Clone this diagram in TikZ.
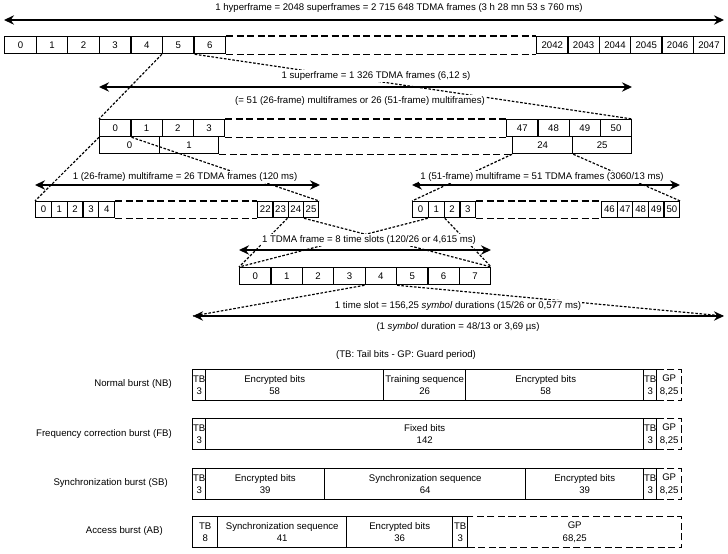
\documentclass[tikz,border=0pt]{standalone}
\usepackage{fontspec}
\setmainfont{Liberation Sans}
\usetikzlibrary{arrows.meta,positioning}
\newlength\pxu
\setlength\pxu{0.3mm}

\begin{document}
\begin{tikzpicture}[x=0.3mm, y=-0.3mm,
  font=\fontsize{8.2}{10.5}\selectfont,
  cell/.style={draw,line width=1.1pt,inner sep=0pt,anchor=north west,minimum height=17*\pxu},
  gap/.style={line width=1.1pt,dash pattern=on 6pt off 3pt},
  zoomline/.style={line width=1pt,dash pattern=on 2.2pt off 1.4pt},
  span/.style={{Stealth[length=3mm,width=2.8mm,inset=1mm]}-{Stealth[length=3mm,width=2.8mm,inset=1mm]},line width=1.5pt},
  txt/.style={fill=white,inner sep=1pt},
  burst/.style={draw,line width=1.2pt,inner sep=0pt,anchor=north west,minimum height=31*\pxu,align=center},
  gp/.style={burst,dash pattern=on 6pt off 3pt},
  burstname/.style={anchor=east,inner sep=0pt}]

\useasboundingbox (0,0) rectangle (728,554);

% hyperframe
\foreach \i in {0,...,6}
  \node[cell,minimum width=31.57*\pxu] (h\i) at (4+31.57*\i,36) {\i};
\foreach \i [count=\k from 0] in {2042,...,2047}
  \node[cell,minimum width=31.33*\pxu] (h\i) at (536+31.33*\k,36) {\i};
\draw[gap] (h6.north east) -- (h2042.north west);
\draw[gap] (h6.south east) -- (h2042.south west);

% superframe (51 x 26-frame and 26 x 51-frame)
\foreach \i in {0,...,3}
  \node[cell,minimum width=31.25*\pxu] (s\i) at (99+31.25*\i,119) {\i};
\foreach \i [count=\k from 0] in {47,...,50}
  \node[cell,minimum width=31.25*\pxu] (s\i) at (506+31.25*\k,119) {\i};
\node[cell,minimum width=60*\pxu] (t0) at (99,136) {0};
\node[cell,minimum width=59*\pxu] (t1) at (159,136) {1};
\node[cell,minimum width=60*\pxu] (t24) at (512,136) {24};
\node[cell,minimum width=59*\pxu] (t25) at (572,136) {25};
\draw[gap] (s3.north east) -- (s47.north west);
\draw[gap] (s3.south east) -- (s47.south west);
\draw[gap] (t1.south east) -- (t24.south west);

% 26-frame multiframe
\foreach \i in {0,...,4}
  \node[cell,minimum width=15.8*\pxu,minimum height=16*\pxu] (m\i) at (35+15.8*\i,201) {\i};
\foreach \i [count=\k from 0] in {22,...,25}
  \node[cell,minimum width=15.25*\pxu,minimum height=16*\pxu] (m\i) at (257+15.25*\k,201) {\i};
\draw[gap] (m4.north east) -- (m22.north west);
\draw[gap] (m4.south east) -- (m22.south west);

% 51-frame multiframe
\foreach \i in {0,...,3}
  \node[cell,minimum width=15.75*\pxu,minimum height=16*\pxu] (n\i) at (412+15.75*\i,201) {\i};
\foreach \i [count=\k from 0] in {46,...,50}
  \node[cell,minimum width=15.6*\pxu,minimum height=16*\pxu] (n\i) at (601+15.6*\k,201) {\i};
\draw[gap] (n3.north east) -- (n46.north west);
\draw[gap] (n3.south east) -- (n46.south west);

% TDMA frame
\foreach \i in {0,...,7}
  \node[cell,minimum width=31.375*\pxu] (f\i) at (239+31.375*\i,267) {\i};

% arrow ends
\coordinate (hypl) at (4,20);    \coordinate (hypr) at (724,20);
\coordinate (supl) at (99,87);   \coordinate (supr) at (632,87);
\coordinate (mfal) at (35,185);  \coordinate (mfar) at (320,185);
\coordinate (mfbl) at (412,185); \coordinate (mfbr) at (680,185);
\coordinate (tdml) at (239,250); \coordinate (tdmr) at (491,250);
\coordinate (tsl) at (193,316);  \coordinate (tsr) at (724,316);

% zoom lines
\draw[zoomline] (h5.south west) -- (s0.north west);
\draw[zoomline] (h5.south east) -- (s50.north east);
\draw[zoomline] (s0.south west) -- (m0.north west);
\draw[zoomline] (s0.south east) -- (m25.north east);
\draw[zoomline] (t24.south west) -- (n0.north west);
\draw[zoomline] (t24.south east) -- (n50.north east);
\draw[zoomline] (m24.south west) -- (f0.north west);
\draw[zoomline] (m24.south east) -- (f7.north east);
\draw[zoomline] (n1.south west) -- (f0.north west);
\draw[zoomline] (n1.south east) -- (f7.north east);
\draw[zoomline] (f4.south west) -- (tsl);
\draw[zoomline] (f4.south east) -- (tsr);

\draw[span] (hypl) -- (hypr);
\draw[span] (supl) -- (supr);
\draw[span] (mfal) -- (mfar);
\draw[span] (mfbl) -- (mfbr);
\draw[span] (tdml) -- (tdmr);
\draw[span] (tsl) -- (tsr);

\node[txt] (hyptxt) at (399,8) {1 hyperframe = 2048 superframes = 2 715 648 TDMA frames (3 h 28 mn 53 s 760 ms)};
\node[txt] (suptxt) at (376,76) {1 superframe = 1 326 TDMA frames (6,12 s)};
\node[txt] (supnote) at (360,101) {(= 51 (26-frame) multiframes or 26 (51-frame) multiframes)};
\node[txt] (mfatxt) at (185,177) {1 (26-frame) multiframe = 26 TDMA frames (120 ms)};
\node[txt] (mfbtxt) at (542,177) {1 (51-frame) multiframe = 51 TDMA frames (3060/13 ms)};
\node[txt] (tdmtxt) at (369,240) {1 TDMA frame = 8 time slots (120/26 or 4,615 ms)};
\node[txt] (tstxt) at (458,306) {1 time slot = 156,25 \textit{symbol} durations (15/26 or 0,577 ms)};
\node[txt,inner sep=0.5pt] (tsnote) at (458,327) {(1 \textit{symbol} duration = 48/13 or 3,69 µs)};
\node[txt] (legend) at (406,355) {(TB: Tail bits - GP: Guard period)};

% normal burst
\node[gp,minimum width=25*\pxu] (nbgp) at (656,369) {GP\\8,25};
\node[burst,minimum width=13*\pxu] (nbtba) at (192,369) {TB\\3};
\node[burst,minimum width=178*\pxu,label={[align=center,xshift=-6mm]center:{Encrypted bits\\58}}] (nbenca) at (205,369) {};
\node[burst,minimum width=82*\pxu] (nbtrain) at (383,369) {Training sequence\\26};
\node[burst,minimum width=178*\pxu,label={[align=center,xshift=-2.7mm]center:{Encrypted bits\\58}}] (nbencb) at (465,369) {};
\node[burst,minimum width=13*\pxu] (nbtbb) at (643,369) {TB\\3};
\node[burstname] (nblab) at (172,384) {Normal burst (NB)};

% frequency correction burst
\node[gp,minimum width=25*\pxu] (fbgp) at (656,418) {GP\\8,25};
\node[burst,minimum width=13*\pxu] (fbtba) at (192,418) {TB\\3};
\node[burst,minimum width=438*\pxu] (fbfix) at (205,418) {Fixed bits\\142};
\node[burst,minimum width=13*\pxu] (fbtbb) at (643,418) {TB\\3};
\node[burstname] (fblab) at (172,434) {Frequency correction burst (FB)};

% synchronization burst
\node[gp,minimum width=25*\pxu] (sbgp) at (656,468) {GP\\8,25};
\node[burst,minimum width=13*\pxu] (sbtba) at (192,468) {TB\\3};
\node[burst,minimum width=119*\pxu] (sbenca) at (205,468) {Encrypted bits\\39};
\node[burst,minimum width=201*\pxu] (sbsync) at (324,468) {Synchronization sequence\\64};
\node[burst,minimum width=118*\pxu] (sbencb) at (525,468) {Encrypted bits\\39};
\node[burst,minimum width=13*\pxu] (sbtbb) at (643,468) {TB\\3};
\node[burstname] (sblab) at (168,483) {Synchronization burst (SB)};

% access burst
\node[gp,minimum width=214*\pxu] (abgp) at (467,516) {GP\\68,25};
\node[burst,minimum width=25*\pxu] (abtba) at (192,516) {TB\\8};
\node[burst,minimum width=129*\pxu] (absync) at (217,516) {Synchronization sequence\\41};
\node[burst,minimum width=106*\pxu] (abenc) at (346,516) {Encrypted bits\\36};
\node[burst,minimum width=15*\pxu] (abtbb) at (452,516) {TB\\3};
\node[burstname] (ablab) at (163,531) {Access burst (AB)};
\end{tikzpicture}
\end{document}
